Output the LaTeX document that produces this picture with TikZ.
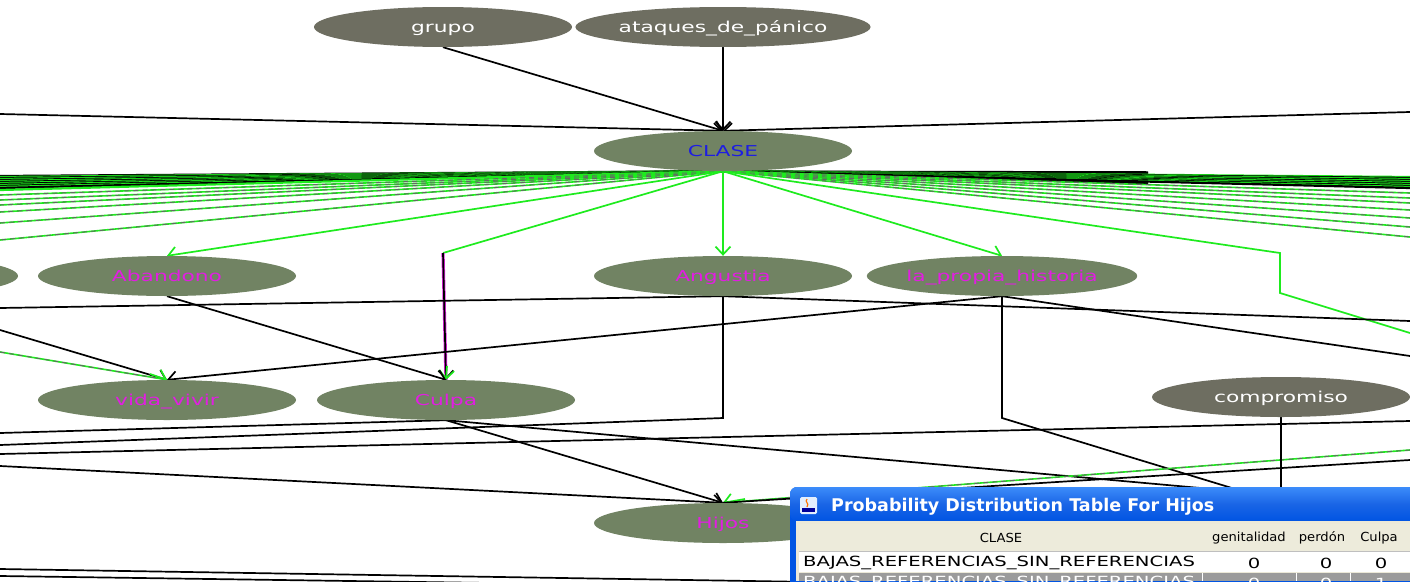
\documentclass[tikz,border=0pt]{standalone}
\usepackage{fontspec}
\setmainfont{DejaVu Sans}
\newfontfamily\graphfont[FakeStretch=1.45]{DejaVu Sans}
\newfontfamily\tablefont[FakeStretch=1.4]{DejaVu Sans}
\newfontfamily\headfont[FakeStretch=1.05]{DejaVu Sans}
\newfontfamily\titlefont{DejaVu Sans}
\usetikzlibrary{shapes.geometric,arrows.meta}

\definecolor{clsfill}{RGB}{113,131,99}
\definecolor{obsfill}{RGB}{110,110,97}
\definecolor{lblmag}{RGB}{225,30,225}
\definecolor{lblblue}{RGB}{30,30,225}
\definecolor{linkgreen}{RGB}{30,235,30}
\definecolor{xpblue}{RGB}{0,84,227}
\definecolor{xplight}{RGB}{60,140,250}
\definecolor{xpbeige}{RGB}{236,233,216}
\definecolor{rowgray}{RGB}{155,155,155}

\pgfdeclarelayer{background}
\pgfsetlayers{background,main}

\begin{document}
\begin{tikzpicture}[x=1pt,y=-1pt,
  bnode/.style={ellipse, minimum width=258pt, minimum height=40pt, inner sep=0pt,
    text height=13pt, text depth=2pt,
    font=\graphfont\fontsize{15}{17}\selectfont},
  varnode/.style={bnode, fill=clsfill, text=lblmag},
  obsnode/.style={bnode, fill=obsfill, text=white},
  link/.style={draw=black, line width=1.7pt},
  glink/.style={draw=linkgreen, line width=1.7pt},
  tip/.style={-{Straight Barb[length=8pt,width=15pt]}},
  fan/.style={draw=linkgreen, line width=1.6pt,
    postaction={draw=black!60, line width=0.9pt, dash pattern=on 5pt off 4pt}},
  tcell/.style={inner sep=0pt, font=\tablefont\fontsize{14}{16}\selectfont},
  thead/.style={inner sep=0pt, font=\headfont\fontsize{12.5}{14}\selectfont},
]
\clip (0,0) rectangle (1410,581);

% ---------- network nodes ----------
\node[obsnode] (grupo) at (443,27) {grupo};
\node[obsnode] (ataques) at (723,27) {ataques\_de\_pánico};
\node[varnode, text=lblblue] (clase) at (723,151) {CLASE};
\node[varnode] (offleft) at (-111,276) {};
\node[varnode] (abandono) at (167,276) {Abandono};
\node[varnode] (angustia) at (723,276) {Angustia};
\node[varnode] (historia) at (1002,276) {la\_propia\_historia};
\node[varnode] (vida) at (167,400) {vida\_vivir};
\node[varnode] (culpa) at (446,400) {Culpa};
\node[obsnode] (compromiso) at (1281,397) {compromiso};
\node[varnode] (hijos) at (723,523) {Hijos};

\begin{pgfonlayer}{background}
\fill[white] (0,0) rectangle (1410,581);

% parents of CLASE
\coordinate (inL) at (0,114);
\coordinate (inR) at (1410,112);
\draw[link,tip] (grupo.south) -- (clase.north);
\draw[link,tip] (ataques.south) -- (clase.north);
\draw[link,tip] (inL) -- (clase.north);
\draw[link,tip] (inR) -- (clase.north);

% dense bundle of CLASE children running off to the left
\foreach \y/\c [count=\i] in {176/black,177/linkgreen,178/black,179/linkgreen,
    180/black,181/linkgreen,182/black,183/linkgreen,184/black,185/linkgreen,
    186/black,187/linkgreen,188/black,190/linkgreen} {
  \coordinate (dl\i) at (0,\y);
  \draw[draw=\c, line width=2.2pt] (clase.south) -- (dl\i);
}
\foreach \y [count=\i] in {195,200,205,212,223,240} {
  \coordinate (fl\i) at (0,\y);
  \draw[fan] (clase.south) -- (fl\i);
}

% dense bundle running off to the right
\foreach \y [count=\i] in {172,173,174,175,176,177,178,179,180,181,182,183,184} {
  \coordinate (db\i) at (1148,\y);
  \draw[draw=black, line width=1.5pt] (clase.south) -- (db\i);
}
\foreach \y/\c [count=\i] in {177/linkgreen,178/black,179/linkgreen,180/black,
    181/linkgreen,182/black,183/linkgreen,184/black,185/linkgreen,186/black,
    187/linkgreen,188/black} {
  \coordinate (dr\i) at (1410,\y);
  \draw[draw=\c, line width=2.2pt] (clase.south) -- (dr\i);
}
\foreach \y [count=\i] in {193,198,203,210,218,227,237} {
  \coordinate (fr\i) at (1410,\y);
  \draw[fan] (clase.south) -- (fr\i);
}

% CLASE to its visible children
\draw[glink,tip] (clase.south) -- (abandono.north);
\draw[glink,tip] (clase.south) -- (angustia.north);
\draw[glink,tip] (clase.south) -- (historia.north);
\coordinate (cbend) at (443,253);
\draw[glink] (clase.south) -- (cbend);
\draw[draw=lblmag, line width=3.2pt] (cbend) -- (culpa.north);
\draw[link,tip] (cbend) -- (culpa.north);
\coordinate (cgt) at (447,366);
\draw[glink,tip] (cgt) -- (culpa.north);
\coordinate (rb1) at (1280,253);
\coordinate (rb2) at (1280,293);
\coordinate (rb3) at (1410,333);
\draw[glink] (clase.south) -- (rb1) -- (rb2) -- (rb3);

% links among the middle rows
\draw[link,tip] (abandono.south) -- (culpa.north);
\coordinate (vl1) at (0,330);
\coordinate (vl2) at (0,352);
\draw[link,tip] (vl1) -- (vida.north);
\draw[fan] (vl2) -- (vida.north);
\coordinate (vgt) at (150,374);
\draw[glink,tip] (vgt) -- (vida.north);
\draw[link,tip] (historia.south) -- (vida.north);

\coordinate (al) at (0,308);
\coordinate (ar) at (1410,321);
\draw[link] (angustia.south) -- (al);
\draw[link] (angustia.south) -- (ar);
\coordinate (akink) at (723,418);
\coordinate (ael) at (0,445);
\draw[link] (angustia.south) -- (akink) -- (ael);

\coordinate (hr) at (1410,356);
\draw[link] (historia.south) -- (hr);
\coordinate (hk) at (1002,418);
\coordinate (hidden) at (1245,492);
\draw[link] (historia.south) -- (hk) -- (hidden);

% links around Culpa and Hijos
\draw[link,tip] (culpa.south) -- (hijos.north);
\draw[link] (culpa.south) -- (hidden);
\coordinate (cl) at (0,433);
\draw[link] (culpa.south) -- (cl);
\coordinate (x1) at (0,454);
\coordinate (x2) at (1410,421);
\draw[link] (x1) -- (x2);
\coordinate (hl) at (0,466);
\draw[link,tip] (hl) -- (hijos.north);
\coordinate (hg) at (1410,450);
\draw[fan] (hg) -- (hijos.north);
\coordinate (hgt) at (745,499);
\draw[glink,tip] (hgt) -- (hijos.north);
\coordinate (hb) at (1410,460);
\draw[link] (hijos.north) -- (hb);
\coordinate (cmpend) at (1281,500);
\draw[link] (compromiso.south) -- (cmpend);

% lines along the bottom edge
\coordinate (b1s) at (0,569);
\coordinate (b1e) at (1000,585);
\coordinate (b2s) at (0,576);
\coordinate (b2e) at (700,586);
\draw[link] (b1s) -- (b1e);
\draw[link] (b2s) -- (b2e);
\end{pgfonlayer}

% ---------- probability table window ----------
\fill[xpblue, rounded corners=7pt] (790,600) -- (790,487) -- (1440,487) -- (1440,600) -- cycle;
\shade[top color=xplight, bottom color=xpblue, middle color=xpblue!90!white, rounded corners=7pt]
  (790,521) -- (790,487) -- (1440,487) -- (1440,521) -- cycle;
\fill[xpbeige] (796,521) rectangle (1410,581);
\fill[xpbeige!92!white] (799,524) rectangle (1410,551);
\draw[black!25, line width=0.6pt] (799,551) -- (1410,551);
\fill[white] (799,552) rectangle (1410,572);
\fill[rowgray] (799,573) rectangle (1410,581);
\foreach \cx in {1202,1296,1350} \draw[white, line width=1pt] (\cx,573) -- (\cx,581);

% title bar icon
\fill[white!85!xplight, rounded corners=1.5pt] (800,497) rectangle (817,514);
\draw[orange!90!red, line width=1.2pt] (807,499) .. controls (804,502) and (810,503) .. (807,507);
\fill[blue!60!black] (802,508) rectangle (815,512);

\node[anchor=west, inner sep=0pt, text=white, font=\titlefont\bfseries\fontsize{17.5}{19}\selectfont]
  (title) at (831,507) {Probability Distribution Table For Hijos};

\node[thead] (hclase) at (1001,538) {CLASE};
\node[thead] (hgen) at (1249,538) {genitalidad};
\node[thead] (hper) at (1322,538) {perdón};
\node[thead] (hcul) at (1379,538) {Culpa};

\node[tcell, anchor=west] (r1lab) at (803,563) {BAJAS\_REFERENCIAS\_SIN\_REFERENCIAS};
\node[tcell] (r1a) at (1254,563) {0};
\node[tcell] (r1b) at (1326,563) {0};
\node[tcell] (r1c) at (1381,563) {0};

\node[tcell, anchor=west, text=white] (r2lab) at (803,583) {BAJAS\_REFERENCIAS\_SIN\_REFERENCIAS};
\node[tcell, text=white] (r2a) at (1254,583) {0};
\node[tcell, text=white] (r2b) at (1326,583) {0};
\node[tcell, text=white] (r2c) at (1381,583) {1};
\end{tikzpicture}
\end{document}
